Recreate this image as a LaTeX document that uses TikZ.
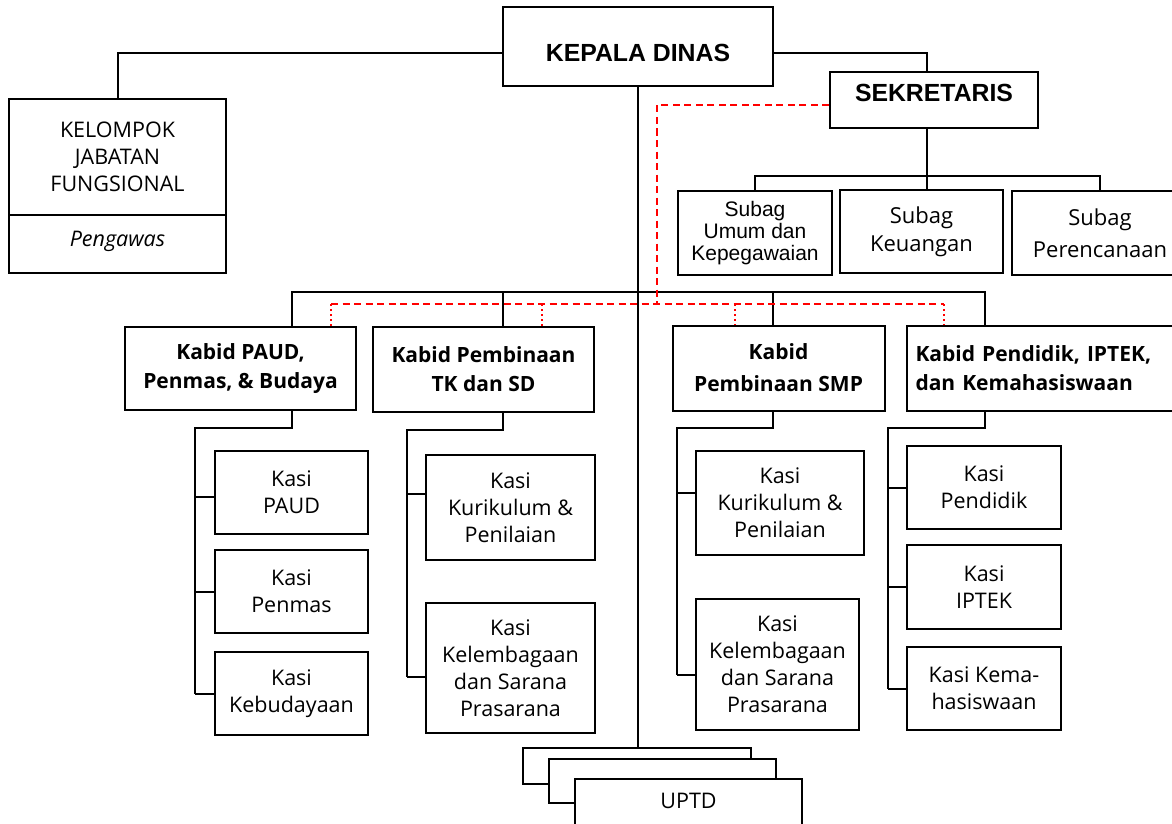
\documentclass[tikz,border=0pt]{standalone}
\usepackage{fontspec}
\setmainfont{Open Sans}
\newfontfamily\arialfont{Liberation Sans}
\begin{document}
\begin{tikzpicture}[x=1pt,y=-1pt,
	kotak/.style={draw, line width=2pt, fill=white, inner sep=0pt, align=center, font=\fontsize{21.5}{27}\selectfont},
	kabid/.style={kotak, font=\fontsize{21}{29}\selectfont\bfseries},
	judul/.style={kotak, font=\arialfont\fontsize{24.8}{28}\selectfont\bfseries},
	subag/.style={kotak, font=\arialfont\fontsize{21}{22}\selectfont},
	garis/.style={line width=2pt},
	merah/.style={red, line width=2pt, dash pattern=on 7pt off 4.5pt},
	titik/.style={red, line width=2pt, dash pattern=on 2pt off 3pt}]
	\useasboundingbox (0,0) rectangle (1172,824);

	\draw
	node[judul, minimum width=270pt, minimum height=79pt, text height=30pt, text depth=0pt] at (638,46.5) (kd) {KEPALA DINAS}
	node[judul, minimum width=208pt, minimum height=56pt, text height=17.8pt, text depth=14pt] at (934,100) (sek) {SEKRETARIS}
	node[kotak, minimum width=217pt, minimum height=116pt] at (117.5,157) (kjf) {KELOMPOK\\JABATAN\\FUNGSIONAL}
	node[kotak, minimum width=217pt, minimum height=58pt, text height=15.4pt, text depth=10pt, font=\fontsize{21.5}{27}\selectfont\itshape] at (117.5,244) (peng) {Pengawas}

	node[subag, minimum width=154pt, minimum height=84pt] at (755,233) (sumum) {Subag\\Umum dan\\Kepegawaian}
	node[kotak, minimum width=163pt, minimum height=83pt, font=\fontsize{22}{28}\selectfont] at (921.5,231.5) (skeu) {Subag\\Keuangan}
	node[kotak, minimum width=176pt, minimum height=84pt, font=\fontsize{22}{28}\selectfont] at (1100,233) (sren) {Subag\\[4pt]Perencanaan}

	node[kabid, minimum width=231pt, minimum height=83pt] at (240.5,368.5) (paud) {Kabid PAUD,\\Penmas, \& Budaya}
	node[kabid, minimum width=221pt, minimum height=85pt] at (483.5,369.5) (tk) {Kabid Pembinaan\\TK dan SD}
	node[kabid, minimum width=212pt, minimum height=85pt] at (778.5,368) (smp) {Kabid\\[3pt]Pembinaan SMP}
	node[kabid, align=left, text width=265pt, inner xsep=9pt, minimum height=85pt] at (1048,368.5) (kpend) {Kabid Pendidik, IPTEK,\\dan Kemahasiswaan}

	node[kotak, minimum width=153pt, minimum height=83pt] at (291.5,492.5) (kpaud) {Kasi\\PAUD}
	node[kotak, minimum width=153pt, minimum height=83pt] at (291.5,591.5) (kpen) {Kasi\\Penmas}
	node[kotak, minimum width=153pt, minimum height=83pt] at (291.5,693.5) (kbud) {Kasi\\Kebudayaan}

	node[kotak, minimum width=169pt, minimum height=105pt] at (510.5,507.5) (tkkur) {Kasi\\Kurikulum \&\\Penilaian}
	node[kotak, minimum width=169pt, minimum height=130pt] at (510.5,668) (tklem) {Kasi\\Kelembagaan\\dan Sarana\\Prasarana}

	node[kotak, minimum width=168pt, minimum height=104pt] at (780,503) (smpkur) {Kasi\\Kurikulum \&\\Penilaian}
	node[kotak, minimum width=163pt, minimum height=131pt] at (777.5,664.5) (smplem) {Kasi\\Kelembagaan\\dan Sarana\\Prasarana}

	node[kotak, minimum width=154pt, minimum height=83pt] at (984,487.5) (kpdk) {Kasi\\Pendidik}
	node[kotak, minimum width=154pt, minimum height=84pt] at (984,587) (kipt) {Kasi\\IPTEK}
	node[kotak, minimum width=154pt, minimum height=83pt] at (984,688.5) (kkema) {Kasi Kema-\\hasiswaan}

	node[kotak, anchor=north, minimum width=228pt, minimum height=36pt] at (637,747) (uptd1) {}
	node[kotak, anchor=north, minimum width=227pt, minimum height=44pt] at (662.5,758) (uptd2) {}
	node[kotak, anchor=north, minimum width=227pt, text height=29pt, text depth=60pt] at (688.5,778) (uptd3) {UPTD};

	% garis komando
	\coordinate (sb) at (927,176);
	\coordinate (b1) at (292,292);
	\coordinate (b2) at (503,292);
	\coordinate (b3) at (773,292);
	\coordinate (b4) at (985,292);
	\coordinate (c1) at (195,428);
	\coordinate (c2) at (407,430);
	\coordinate (c3) at (677,428);
	\coordinate (c4) at (888,428);

	\draw[garis] ([yshift=-7pt]kd.west) -| (kjf.north);
	\draw[garis] ([yshift=-7pt]kd.east) -| (sb |- sek.north);
	\draw[garis] (kd.south) -- (kd.south |- uptd1.north);
	\draw[garis] (sb |- sek.south) -- (sb);
	\draw[garis] (sumum.north) |- (sb) -| (sren.north);
	\draw[garis] (sb) -- (sb |- skeu.north);

	\draw[garis] (b1 |- paud.north) -- (b1) -- (b4) -- (b4 |- kpend.north);
	\draw[garis] (b2) -- (b2 |- tk.north);
	\draw[garis] (b3) -- (b3 |- smp.north);

	\draw[garis] (b1 |- paud.south) |- (c1) -- (c1 |- kbud.west);
	\draw[garis] ([yshift=-4pt]kpaud.west -| c1) -- ([yshift=-4pt]kpaud.west);
	\draw[garis] (c1 |- kpen.west) -- (kpen.west);
	\draw[garis] (c1 |- kbud.west) -- (kbud.west);

	\draw[garis] (b2 |- tk.south) |- (c2) -- ([yshift=-9pt]c2 |- tklem.west);
	\draw[garis] ([yshift=14pt]tkkur.west -| c2) -- ([yshift=14pt]tkkur.west);
	\draw[garis] ([yshift=-9pt]tklem.west -| c2) -- ([yshift=-9pt]tklem.west);

	\draw[garis] (b3 |- smp.south) |- (c3) -- ([yshift=-10pt]c3 |- smplem.west);
	\draw[garis] ([yshift=10pt]smpkur.west -| c3) -- ([yshift=10pt]smpkur.west);
	\draw[garis] ([yshift=-10pt]smplem.west -| c3) -- ([yshift=-10pt]smplem.west);

	\draw[garis] (b4 |- kpend.south) |- (c4) -- (c4 |- kkema.west);
	\draw[garis] (c4 |- kpdk.west) -- (kpdk.west);
	\draw[garis] (c4 |- kipt.west) -- (kipt.west);
	\draw[garis] (c4 |- kkema.west) -- (kkema.west);

	% garis koordinasi
	\coordinate (r0) at (657,304);
	\coordinate (r1) at (331,304);
	\coordinate (r2) at (542,304);
	\coordinate (r3) at (735,304);
	\coordinate (r4) at (944,304);
	\draw[merah] ([yshift=-5pt]sek.west) -| (r0);
	\draw[merah] (r1) -- (r4);
	\draw[titik] (r1) -- (r1 |- paud.north);
	\draw[titik] (r2) -- (r2 |- tk.north);
	\draw[titik] (r3) -- (r3 |- smp.north);
	\draw[titik] (r4) -- (r4 |- kpend.north);
\end{tikzpicture}
\end{document}
